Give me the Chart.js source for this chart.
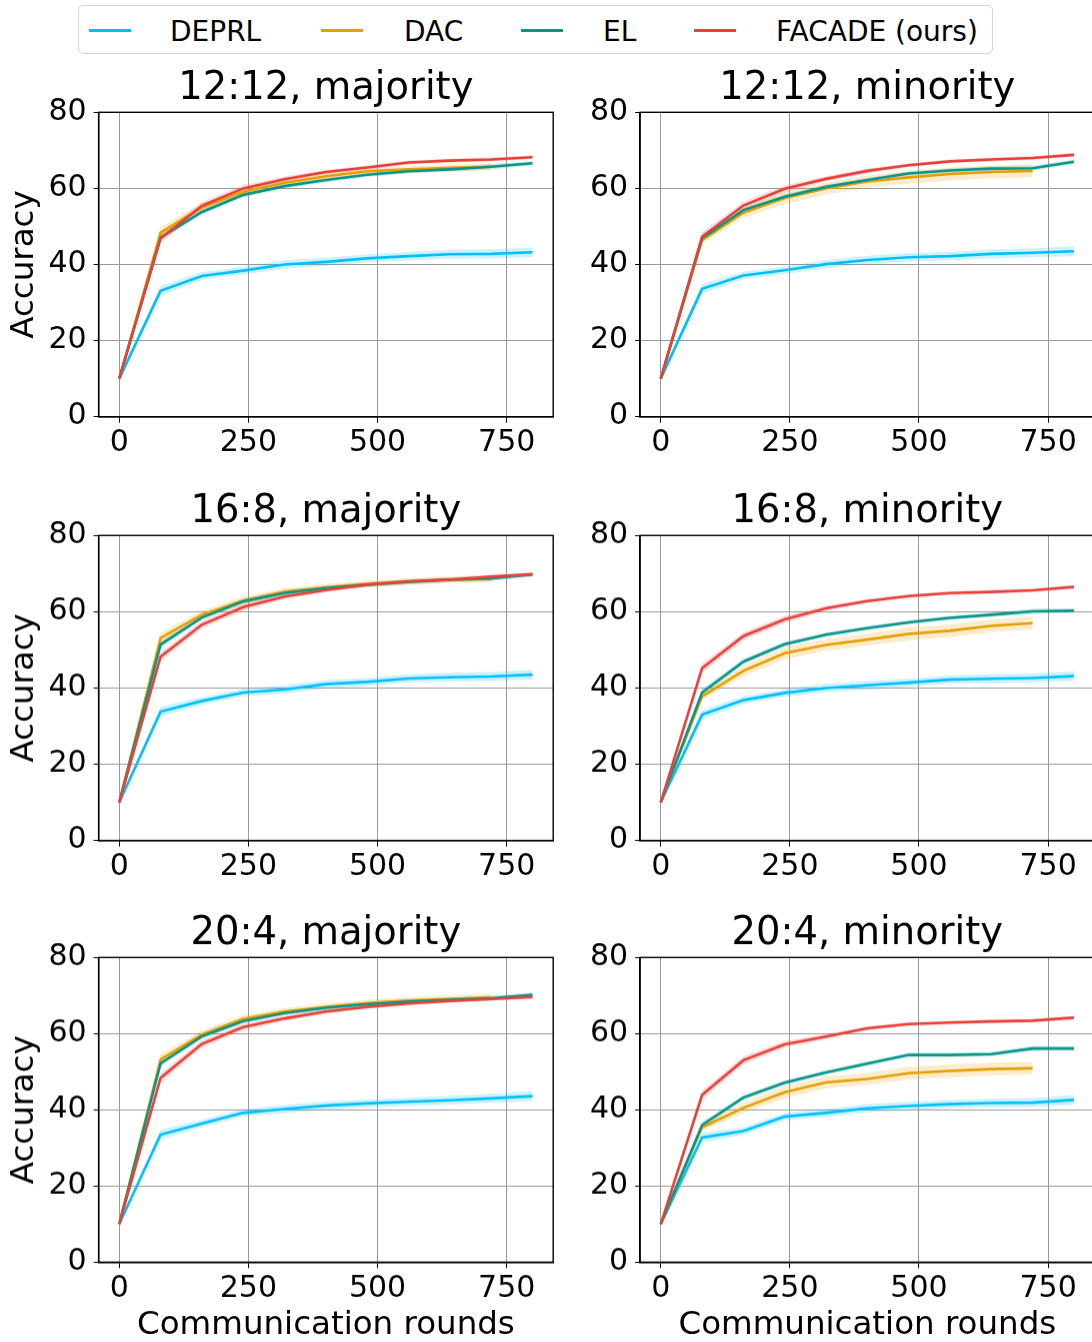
<!DOCTYPE html>
<html>
<head>
<meta charset="utf-8">
<script src="https://cdn.jsdelivr.net/npm/chart.js@4.4.0/dist/chart.umd.min.js"></script>
<style>
  body { margin: 0; width: 1092px; height: 1342px; overflow: hidden; background: #fff; position: relative; font-family: "DejaVu Sans", sans-serif; }
  .panel { position: absolute; }
  #legend { position: absolute; left: 78px; top: 5px; width: 915px; height: 49px; border: 1px solid #d4d4d4; border-radius: 5px; box-sizing: border-box; }
  .key { position: absolute; top: 23px; width: 42px; height: 3px; }
  .lab { position: absolute; top: 9px; font-size: 28px; line-height: 34px; color: #000; }
</style>
</head>
<body>
<div id="legend"></div>

<script>
// rounds on the x axis
const rounds = [0, 80, 160, 240, 320, 400, 480, 560, 640, 720, 800];
const xTicks = [0, 250, 500, 750];
const yTicks = [0, 20, 40, 60, 80];

const methods = ['DEPRL', 'DAC', 'EL', 'FACADE (ours)'];
const colors = ['#00bfff', '#e69f00', '#08968a', '#e8413b'];

// 12:12, majority
const a_deprl  = [10, 33.1, 37.0, 38.4, 40.0, 40.7, 41.6, 42.2, 42.7, 42.8, 43.2];
const a_dac    = [10, 48.4, 55.0, 59.1, 61.5, 63.2, 64.5, 65.0, 65.4, 65.7];
const a_el     = [10, 47.1, 53.8, 58.3, 60.6, 62.2, 63.6, 64.5, 65.0, 65.7, 66.6];
const a_facade = [10, 46.9, 55.4, 60.0, 62.4, 64.3, 65.5, 66.8, 67.3, 67.6, 68.2];

// 12:12, minority
const b_deprl  = [10, 33.6, 37.1, 38.5, 40.1, 41.2, 41.9, 42.2, 42.8, 43.1, 43.5];
const b_dac    = [10, 46.4, 53.6, 57.5, 60.0, 61.8, 62.9, 63.8, 64.3, 64.6];
const b_el     = [10, 46.9, 54.3, 57.8, 60.4, 62.2, 63.9, 64.7, 65.2, 65.3, 67.0];
const b_facade = [10, 47.3, 55.5, 59.9, 62.5, 64.6, 66.1, 67.1, 67.6, 68.0, 68.8];

// 16:8, majority
const c_deprl  = [10, 33.8, 36.6, 38.8, 39.6, 41.0, 41.6, 42.5, 42.8, 43.0, 43.5];
const c_dac    = [10, 53.1, 59.2, 62.9, 65.3, 66.4, 67.3, 67.9, 68.4, 68.6];
const c_el     = [10, 51.4, 58.5, 62.7, 64.9, 66.2, 67.1, 67.8, 68.4, 68.7, 69.8];
const c_facade = [10, 48.2, 56.6, 61.2, 64.0, 65.7, 67.1, 68.0, 68.4, 69.2, 69.8];

// 16:8, minority
const d_deprl  = [10, 33.0, 36.8, 38.7, 40.0, 40.7, 41.4, 42.2, 42.4, 42.6, 43.1];
const d_dac    = [10, 37.8, 44.5, 49.1, 51.3, 52.7, 54.2, 55.0, 56.3, 57.0];
const d_el     = [10, 38.8, 46.9, 51.5, 54.0, 55.7, 57.2, 58.4, 59.2, 60.1, 60.3];
const d_facade = [10, 45.2, 53.6, 58.0, 60.9, 62.8, 64.1, 64.9, 65.2, 65.6, 66.5];

// 20:4, majority
const e_deprl  = [10, 33.5, 36.4, 39.2, 40.2, 41.1, 41.7, 42.1, 42.5, 43.0, 43.6];
const e_dac    = [10, 53.2, 59.8, 63.9, 65.8, 67.0, 68.0, 68.7, 69.1, 69.5];
const e_el     = [10, 52.2, 59.3, 63.3, 65.4, 66.8, 67.7, 68.4, 68.9, 69.3, 70.2];
const e_facade = [10, 48.4, 57.3, 61.7, 64.0, 65.8, 67.0, 67.9, 68.6, 69.1, 69.6];

// 20:4, minority
const f_deprl  = [10, 32.7, 34.4, 38.2, 39.2, 40.4, 41.0, 41.5, 41.8, 41.9, 42.6];
const f_dac    = [10, 35.4, 40.5, 44.6, 47.2, 48.1, 49.6, 50.2, 50.7, 50.9];
const f_el     = [10, 36.0, 43.2, 47.1, 49.8, 52.1, 54.4, 54.4, 54.6, 56.1, 56.1];
const f_facade = [10, 43.9, 53.0, 57.2, 59.2, 61.4, 62.5, 62.9, 63.2, 63.4, 64.2];

// spread (std) around each curve
const sdDEPRL  = [0.3, 1.3, 1.0, 1.0, 1.1, 1.1, 1.1, 1.1, 1.2, 1.2, 1.3];
const sdDAC    = [0.3, 1.4, 1.1, 1.0, 0.9, 0.9, 0.9, 0.9, 0.9, 0.9];
const sdDACMin = [0.3, 0.9, 1.4, 1.6, 1.6, 1.6, 1.7, 1.7, 1.7, 1.7];
const sdEL     = [0.3, 0.9, 0.7, 0.7, 0.6, 0.6, 0.6, 0.6, 0.6, 0.7, 0.6];
const sdFACADE = [0.3, 1.2, 1.0, 0.9, 0.7, 0.6, 0.5, 0.5, 0.5, 0.5, 0.5];

const panels = [
  { title: '12:12, majority', series: [a_deprl, a_dac, a_el, a_facade], minority: false },
  { title: '12:12, minority', series: [b_deprl, b_dac, b_el, b_facade], minority: true },
  { title: '16:8, majority',  series: [c_deprl, c_dac, c_el, c_facade], minority: false },
  { title: '16:8, minority',  series: [d_deprl, d_dac, d_el, d_facade], minority: true },
  { title: '20:4, majority',  series: [e_deprl, e_dac, e_el, e_facade], minority: false },
  { title: '20:4, minority',  series: [f_deprl, f_dac, f_el, f_facade], minority: true }
];

const FONT = '"DejaVu Sans", sans-serif';

// legend (html)
const legend = document.getElementById('legend');
const keyX = [10, 242, 442, 615];
const labX = [91, 325, 524, 697];
methods.forEach((m, i) => {
  const k = document.createElement('div');
  k.className = 'key';
  k.style.left = keyX[i] + 'px';
  k.style.background = colors[i];
  legend.appendChild(k);
  const t = document.createElement('div');
  t.className = 'lab';
  t.style.left = labX[i] + 'px';
  t.textContent = m;
  legend.appendChild(t);
});

// box around plot area, like matplotlib spines
const frame = {
  id: 'frame',
  afterDraw(chart) {
    const a = chart.chartArea, ctx = chart.ctx;
    ctx.save();
    ctx.strokeStyle = '#000';
    ctx.lineWidth = 1.4;
    ctx.strokeRect(a.left, a.top, a.right - a.left, a.bottom - a.top);
    ctx.restore();
  }
};

function hexA(hex, a) {
  const n = parseInt(hex.slice(1), 16);
  return `rgba(${n >> 16},${(n >> 8) & 255},${n & 255},${a})`;
}

// layout of the grid of panels
const rowTop = [55, 477.7, 900.4];
const rowH = [417, 416.9, 441.6];
const xH = [55.3, 55.3, 80.3];
const colLeft = [0, 560];
const colW = [560, 536];
const yW = [98.6, 80.1];
const padR = [6.8, 1.4];

panels.forEach((p, idx) => {
  const row = Math.floor(idx / 2), col = idx % 2;
  const wrap = document.createElement('div');
  wrap.className = 'panel';
  wrap.style.left = colLeft[col] + 'px';
  wrap.style.top = rowTop[row] + 'px';
  wrap.style.width = colW[col] + 'px';
  wrap.style.height = rowH[row] + 'px';
  const cv = document.createElement('canvas');
  wrap.appendChild(cv);
  document.body.appendChild(wrap);

  const sds = [sdDEPRL, p.minority ? sdDACMin : sdDAC, sdEL, sdFACADE];
  const datasets = [];
  // bands first
  p.series.forEach((s, i) => {
    const sd = sds[i];
    datasets.push({
      data: s.map((v, j) => ({ x: rounds[j], y: v + sd[j] })),
      borderWidth: 0, pointRadius: 0, tension: 0,
      backgroundColor: hexA(colors[i], 0.2),
      fill: '+1', order: 10
    });
    datasets.push({
      data: s.map((v, j) => ({ x: rounds[j], y: v - sd[j] })),
      borderWidth: 0, pointRadius: 0, tension: 0, fill: false, order: 10
    });
  });
  p.series.forEach((s, i) => {
    datasets.push({
      label: methods[i],
      data: s.map((v, j) => ({ x: rounds[j], y: v })),
      borderColor: colors[i],
      borderWidth: 2.6,
      pointRadius: 0,
      tension: 0,
      fill: false,
      order: 4 - i
    });
  });

  new Chart(cv, {
    type: 'line',
    data: { datasets },
    plugins: [frame],
    options: {
      responsive: true,
      maintainAspectRatio: false,
      animation: false,
      events: [],
      layout: { padding: { left: 0, right: padR[col], top: 0, bottom: 0 } },
      plugins: {
        legend: { display: false },
        tooltip: { enabled: false },
        filler: { drawTime: 'beforeDatasetsDraw' },
        title: {
          display: true,
          fullSize: false,
          text: p.title,
          color: '#000',
          font: { family: FONT, size: 38.5, weight: 'normal', lineHeight: 1.2 },
          padding: { top: 11.1, bottom: 0 }
        }
      },
      scales: {
        x: {
          type: 'linear',
          min: -40, max: 840,
          afterBuildTicks: s => { s.ticks = xTicks.map(v => ({ value: v })); },
          afterFit: s => { s.height = xH[row]; },
          ticks: { color: '#000', font: { family: FONT, size: 30 }, padding: 3, maxRotation: 0, autoSkip: false },
          grid: { color: '#9a9a9a', lineWidth: 1, tickLength: 6, tickColor: '#000' },
          border: { color: '#000', width: 1.4 },
          title: {
            display: row === 2,
            text: 'Communication rounds',
            color: '#000',
            font: { family: FONT, size: 32.5, lineHeight: 1.2 },
            padding: { top: 0, bottom: -2 }
          }
        },
        y: {
          min: 0, max: 80,
          afterBuildTicks: s => { s.ticks = yTicks.map(v => ({ value: v })); },
          afterFit: s => { s.width = yW[col]; },
          ticks: { color: '#000', font: { family: FONT, size: 30 }, padding: 7 },
          grid: { color: '#9a9a9a', lineWidth: 1, tickLength: 5, tickColor: '#000' },
          border: { color: '#000', width: 1.4 },
          title: {
            display: col === 0,
            text: 'Accuracy',
            color: '#000',
            font: { family: FONT, size: 32.5, lineHeight: 1.2 },
            padding: { top: 5, bottom: 0 }
          }
        }
      }
    }
  });
});
</script>
</body>
</html>
